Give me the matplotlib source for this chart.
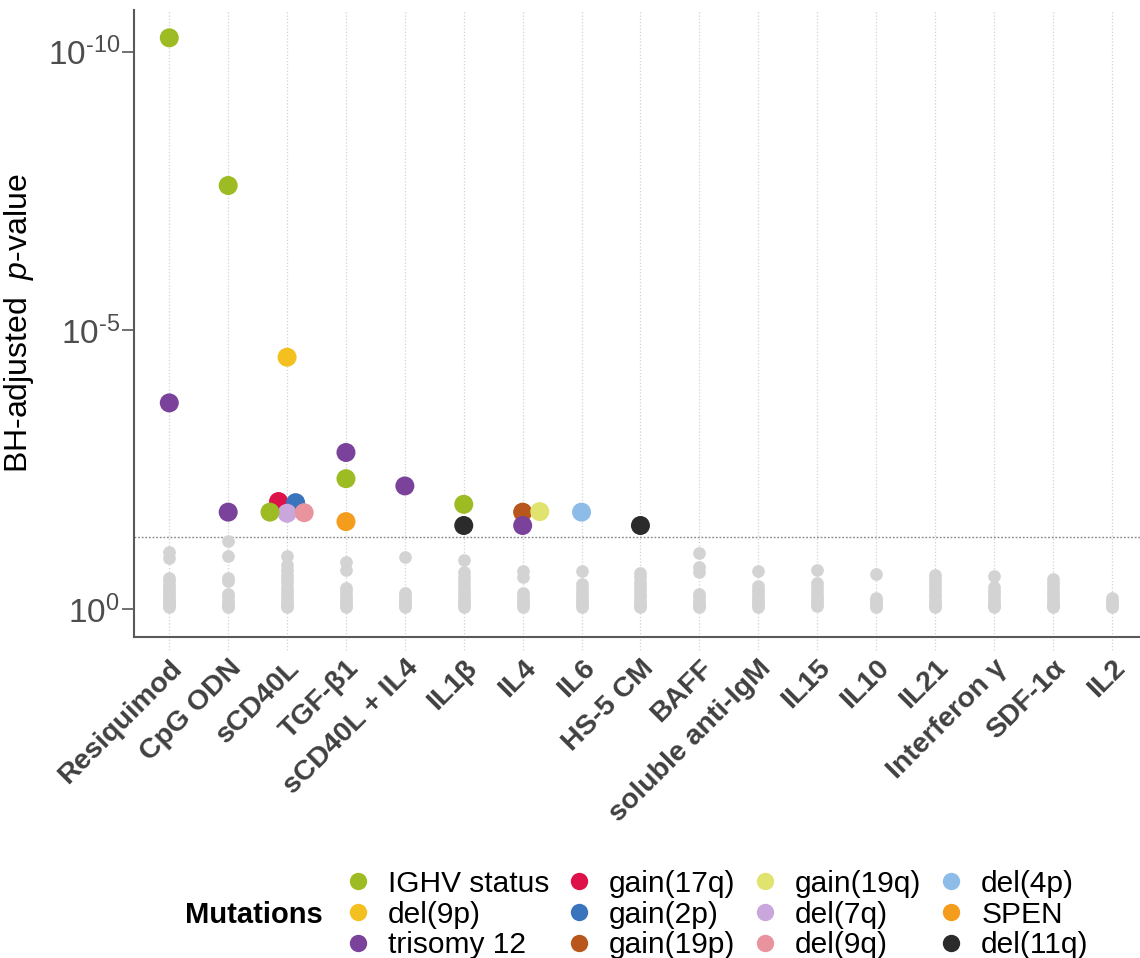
import matplotlib
matplotlib.use("Agg")
import matplotlib.pyplot as plt
from matplotlib.lines import Line2D
from matplotlib.transforms import blended_transform_factory
from matplotlib.ticker import FuncFormatter
import numpy as np

plt.rcParams['font.family'] = ['Liberation Sans', 'DejaVu Sans']
plt.rcParams['mathtext.fontset'] = 'custom'
plt.rcParams['mathtext.rm'] = 'Liberation Sans'
plt.rcParams['mathtext.it'] = 'Liberation Sans:italic'

# data (y values are -log10 of the BH-adjusted p-value)
###################################################
stimuli = ['Resiquimod', 'CpG ODN', 'sCD40L', 'TGF-β1', 'sCD40L + IL4', 'IL1β',
           'IL4', 'IL6', 'HS-5 CM', 'BAFF', 'soluble anti-IgM', 'IL15', 'IL10',
           'IL21', 'Interferon γ', 'SDF-1α', 'IL2']

mutations = ['IGHV status', 'del(9p)', 'trisomy 12', 'gain(17q)', 'gain(2p)',
             'gain(19p)', 'gain(19q)', 'del(7q)', 'del(9q)', 'del(4p)', 'SPEN', 'del(11q)']
mutation_colors = ['#9DBB22', '#F3C020', '#7A429A', '#DC1248', '#3A74BC',
                   '#B8561B', '#E0E46E', '#C9A6DC', '#E8939E', '#8EBCE8', '#F49C1C', '#2B2B2B']

# significant associations
hit_stimulus = ['Resiquimod', 'Resiquimod', 'CpG ODN', 'CpG ODN',
                'sCD40L', 'sCD40L', 'sCD40L', 'sCD40L', 'sCD40L', 'sCD40L',
                'TGF-β1', 'TGF-β1', 'TGF-β1', 'sCD40L + IL4',
                'IL1β', 'IL1β', 'IL4', 'IL4', 'IL4', 'IL6', 'HS-5 CM']
hit_mutation = ['IGHV status', 'trisomy 12', 'IGHV status', 'trisomy 12',
                'del(9p)', 'gain(17q)', 'gain(2p)', 'del(7q)', 'del(9q)', 'IGHV status',
                'trisomy 12', 'IGHV status', 'SPEN', 'trisomy 12',
                'IGHV status', 'del(11q)', 'gain(19p)', 'gain(19q)', 'trisomy 12',
                'del(4p)', 'del(11q)']
hit_neglogp = [10.25, 3.70, 7.60, 1.74,
               4.52, 1.93, 1.91, 1.72, 1.73, 1.74,
               2.81, 2.34, 1.57, 2.21,
               1.88, 1.50, 1.74, 1.75, 1.50,
               1.74, 1.50]

# non-significant associations, one list per stimulus
grey_values = [
    [1.03, 0.92, 0.56, 0.50, 0.44, 0.38, 0.32, 0.27, 0.22, 0.17, 0.13, 0.09, 0.06, 0.04],
    [1.23, 0.96, 0.56, 0.51, 0.27, 0.21, 0.15, 0.10, 0.06, 0.04],
    [0.96, 0.80, 0.70, 0.62, 0.55, 0.48, 0.40, 0.33, 0.27, 0.21, 0.15, 0.10, 0.06, 0.04],
    [0.85, 0.71, 0.38, 0.32, 0.26, 0.20, 0.15, 0.10, 0.06, 0.04],
    [0.94, 0.29, 0.24, 0.19, 0.14, 0.09, 0.05, 0.03],
    [0.88, 0.66, 0.58, 0.50, 0.42, 0.35, 0.28, 0.22, 0.16, 0.11, 0.07, 0.04],
    [0.69, 0.58, 0.29, 0.23, 0.17, 0.12, 0.07, 0.04],
    [0.69, 0.45, 0.38, 0.31, 0.25, 0.19, 0.13, 0.08, 0.04],
    [0.65, 0.57, 0.49, 0.41, 0.34, 0.27, 0.21, 0.15, 0.10, 0.06, 0.04],
    [1.00, 0.76, 0.67, 0.27, 0.21, 0.15, 0.10, 0.06, 0.04],
    [0.68, 0.42, 0.35, 0.28, 0.22, 0.16, 0.11, 0.07, 0.04],
    [0.70, 0.47, 0.40, 0.33, 0.26, 0.20, 0.14, 0.09, 0.05],
    [0.63, 0.20, 0.15, 0.10, 0.06, 0.04],
    [0.62, 0.55, 0.48, 0.41, 0.34, 0.27, 0.21, 0.15, 0.10, 0.06, 0.04],
    [0.59, 0.40, 0.33, 0.27, 0.21, 0.15, 0.10, 0.06, 0.04],
    [0.54, 0.47, 0.40, 0.33, 0.27, 0.21, 0.15, 0.10, 0.06, 0.04],
    [0.20, 0.15, 0.10, 0.06, 0.04],
]

p_cutoff = 0.05

# figure
###################################################
fig = plt.figure(figsize=(11.4, 9.58), dpi=100)
ax = fig.add_axes([0.1175, 0.3351, 0.8886, 0.6545])
ax.set_xlim(-0.6, 16.6)
ax.set_ylim(-0.5, 10.75)

hit_dot = 19.0   # px
grey_dot = 12.7  # px


def swarm(cats, vals, diam):
    # simple beeswarm: lowest first, nudge sideways when dots collide
    t = ax.transData
    px_x = t.transform((1, 0))[0] - t.transform((0, 0))[0]
    px_y = t.transform((0, 1))[1] - t.transform((0, 0))[1]
    step = 0.45 * diam
    min_d = 0.64 * diam
    slot = np.zeros(len(cats))
    for c in set(cats):
        idx = sorted([i for i in range(len(cats)) if cats[i] == c], key=lambda i: vals[i])
        done = []
        for i in idx:
            for k in [0] + [s * j for j in range(1, 10) for s in (1, -1)]:
                if all(np.hypot((k - slot[j]) * step, (vals[i] - vals[j]) * px_y) >= min_d for j in done):
                    break
            slot[i] = k
            done.append(i)
    return slot * step / px_x


hit_x = np.array([stimuli.index(s) for s in hit_stimulus], dtype=float)
hit_x = hit_x + swarm(list(hit_x), hit_neglogp, hit_dot)
hit_c = [mutation_colors[mutations.index(m)] for m in hit_mutation]

# dotted verticals, running a bit below the axis like the tick marks
trans = blended_transform_factory(ax.transData, ax.transAxes)
ax.vlines(range(len(stimuli)), -0.021, 1, transform=trans, clip_on=False,
          colors='#D2D2D2', linestyles=(0, (1, 1.6)), lw=0.9, zorder=0)

ax.axhline(-np.log10(p_cutoff), color='#8A8A8A', ls=(0, (1.3, 1.3)), lw=1.0, zorder=1)

for i, vals in enumerate(grey_values):
    ax.scatter([i] * len(vals), vals, s=(grey_dot * 0.72) ** 2, color='#D3D3D3',
               linewidths=0, zorder=2)

ax.scatter(hit_x, hit_neglogp, s=(hit_dot * 0.72) ** 2, c=hit_c, linewidths=0, zorder=3)

# axes styling
for side in ['top', 'right']:
    ax.spines[side].set_visible(False)
for side in ['left', 'bottom']:
    ax.spines[side].set_color('#595959')
    ax.spines[side].set_linewidth(1.5)


def pow10(v, pos):
    if v == 0:
        return r'$\mathregular{10^{0}}$'
    return r'$\mathregular{10^{\text{-}%d}}$' % v


ax.set_yticks([0, 5, 10])
ax.yaxis.set_major_formatter(FuncFormatter(pow10))
ax.tick_params(axis='y', length=9, width=1.2, color='#595959', labelcolor='#4D4D4D',
               labelsize=24, pad=1)
ax.set_ylabel(r'BH-adjusted  $\mathit{p}$-value', fontsize=23)
ax.yaxis.set_label_coords(-0.097, 0.5)

ax.set_xticks(range(len(stimuli)))
ax.set_xticklabels(stimuli, rotation=45, ha='right', va='top', rotation_mode='anchor',
                   fontweight='bold', fontsize=20.5, color='#404040')
ax.tick_params(axis='x', length=0, pad=13)

# legend
handles = [Line2D([], [], marker='o', ls='none', markersize=12.5, markeredgewidth=0,
                  color=c) for c in mutation_colors]
fig.legend(handles, mutations, ncol=4, loc='center left', bbox_to_anchor=(0.3035, 0.0454),
           frameon=False, fontsize=21.5, handlelength=0.8, handletextpad=0.6,
           columnspacing=0.6, labelspacing=0.1, borderpad=0, borderaxespad=0)
fig.text(185 / 1140, 0.0454, 'Mutations', fontweight='bold', fontsize=21,
         ha='left', va='center')

fig.savefig('out.png', dpi=100)
